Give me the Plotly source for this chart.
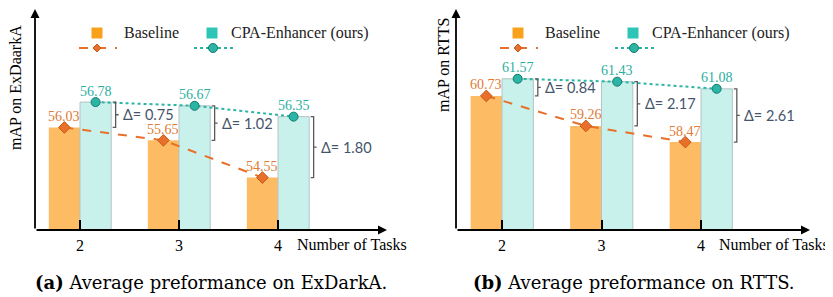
import plotly.graph_objects as go

# ---------------- data ----------------
tasks = [2, 3, 4]
tick_labels = ["2", "3", "4"]
exdark_baseline = [56.03, 55.65, 54.55]
exdark_cpa = [56.78, 56.67, 56.35]
rtts_baseline = [60.73, 59.26, 58.47]
rtts_cpa = [61.57, 61.43, 61.08]

series_names = ["Baseline", "CPA-Enhancer (ours)"]
y_titles = ["mAP on ExDaarkA", "mAP on RTTS"]
captions = ["<b>(a)</b> Average preformance on ExDarkA.",
            "<b>(b)</b> Average preformance on RTTS."]
x_title = "Number of Tasks"

# ---------------- style ----------------
OFF = 8  # page body margin
W, H = 833 - OFF, 297 - OFF
SERIF = "Liberation Serif"
BAR_W = 0.315
ORANGE_BAR = "#FDBB63"
CYAN_BAR = "#C9F1EC"
ORANGE_LINE = "#E8702A"
CYAN_LINE = "#2BB5A5"
ORANGE_LEG = "#F9A11B"
CYAN_LEG = "#2EC4B6"
ORANGE_TXT = "#E07A35"
CYAN_TXT = "#2BB0A0"
DELTA_TXT = "#44546A"
BRACE = "#5a5a5a"


def px(x):
    return (x - OFF) / W


def py(y):
    return 1 - (y - OFF) / H


fig = go.Figure()

panels = [
    dict(base=exdark_baseline, cpa=exdark_cpa, xa="x", ya="y",
         xdom=[35, 387], xr=[2 - 45 / 99, 4 + 109 / 99], yr=[53.0, 59.56],
         ytitle_pos=(15, 88), leg_x=35, cap_x=211, xt_x=295),
    dict(base=rtts_baseline, cpa=rtts_cpa, xa="x2", ya="y2",
         xdom=[456, 810], xr=[2 - 46 / 99.5, 4 + 109 / 99.5], yr=[54.16, 65.04],
         ytitle_pos=(443, 65), leg_x=456, cap_x=634, xt_x=717),
]

annotations = []
shapes = []


def text_ann(x, y, text, font, xanchor="center", yanchor="middle", **kw):
    d = dict(x=x, y=y, xref="paper", yref="paper", text=text, showarrow=False,
             xanchor=xanchor, yanchor=yanchor, font=font)
    d.update(kw)
    annotations.append(d)


for i, p in enumerate(panels):
    xa, ya = p["xa"], p["ya"]
    # bars
    fig.add_trace(go.Bar(x=tasks, y=p["base"], width=BAR_W, offset=-BAR_W,
                         marker=dict(color=ORANGE_BAR, line=dict(width=0)),
                         xaxis=xa, yaxis=ya, showlegend=False))
    fig.add_trace(go.Bar(x=tasks, y=p["cpa"], width=BAR_W, offset=0,
                         marker=dict(color=CYAN_BAR, line=dict(width=1, color="#b4c4c4")),
                         xaxis=xa, yaxis=ya, showlegend=False))
    # lines with markers
    xb = [t - BAR_W / 2 for t in tasks]
    xc = [t + BAR_W / 2 for t in tasks]
    fig.add_trace(go.Scatter(x=xb, y=p["base"], mode="lines+markers",
                             line=dict(color=ORANGE_LINE, width=2, dash="dash"),
                             marker=dict(symbol="diamond", size=9, color=ORANGE_LINE,
                                         line=dict(color="#C85A1A", width=1)),
                             cliponaxis=False, xaxis=xa, yaxis=ya, showlegend=False))
    fig.add_trace(go.Scatter(x=xc, y=p["cpa"], mode="lines+markers",
                             line=dict(color=CYAN_LINE, width=2, dash="dot"),
                             marker=dict(symbol="circle", size=9, color=CYAN_LINE,
                                         line=dict(color="#137a70", width=1)),
                             cliponaxis=False, xaxis=xa, yaxis=ya, showlegend=False))
    # value labels
    for xs, vals, col in [(xb, p["base"], ORANGE_TXT), (xc, p["cpa"], CYAN_TXT)]:
        for xv_, v in zip(xs, vals):
            annotations.append(dict(x=xv_, y=v, xref=xa, yref=ya, text=f"{v:.2f}",
                                    showarrow=False, yshift=11, xanchor="center",
                                    yanchor="middle",
                                    font=dict(family=SERIF, size=14, color=col)))

    # delta braces
    for t, b, c in zip(tasks, p["base"], p["cpa"]):
        x0 = t + BAR_W + 0.015
        xv = t + BAR_W + 0.045
        ym = (b + c) / 2
        path = (f"M {x0},{c} L {xv},{c} L {xv},{b} L {x0},{b} "
                f"M {xv},{ym} L {xv + 0.03},{ym}")
        shapes.append(dict(type="path", path=path, xref=xa, yref=ya,
                           line=dict(color=BRACE, width=1.3)))
        annotations.append(dict(x=xv + 0.055, y=ym, xref=xa, yref=ya,
                                text=f"Δ= {c - b:.2f}", showarrow=False,
                                xanchor="left", yanchor="middle",
                                font=dict(family="Lato", size=14.5, color=DELTA_TXT)))

    # axis arrows
    x_left, x_right = p["xdom"]
    annotations.append(dict(x=px(x_right), y=py(230), xref="paper", yref="paper",
                            ax=-(x_right - x_left), ay=0, axref="pixel", ayref="pixel",
                            text="", showarrow=True, arrowhead=2, arrowsize=1,
                            arrowwidth=1.8, arrowcolor="black", standoff=0))
    annotations.append(dict(x=px(x_left), y=py(8), xref="paper", yref="paper",
                            ax=0, ay=222, axref="pixel", ayref="pixel",
                            text="", showarrow=True, arrowhead=2, arrowsize=1,
                            arrowwidth=1.8, arrowcolor="black", standoff=0))

    # y title
    tx, ty = p["ytitle_pos"]
    text_ann(px(tx), py(ty), y_titles[i], dict(family=SERIF, size=16, color="black"),
             textangle=-90)
    # x title
    text_ann(px(p["xt_x"]), py(244), x_title, dict(family=SERIF, size=16, color="black"),
             xanchor="left")
    # caption
    text_ann(px(p["cap_x"]), py(282), captions[i],
             dict(family="DejaVu Serif", size=18, color="black"))

    # manual legend
    lx = p["leg_x"]
    sq = 5.5
    for cx, col in [(lx + 62, ORANGE_LEG), (lx + 177, CYAN_LEG)]:
        shapes.append(dict(type="rect", xref="paper", yref="paper",
                           x0=px(cx - sq), x1=px(cx + sq), y0=py(33 + sq), y1=py(33 - sq),
                           fillcolor=col, line=dict(width=0)))
    text_ann(px(lx + 87), py(33), series_names[0],
             dict(family=SERIF, size=16, color="#222"), xanchor="left")
    text_ann(px(lx + 194), py(33), series_names[1],
             dict(family=SERIF, size=16, color="#222"), xanchor="left")
    # legend line samples
    shapes.append(dict(type="line", xref="paper", yref="paper",
                       x0=px(lx + 44), x1=px(lx + 82), y0=py(48), y1=py(48),
                       line=dict(color=ORANGE_LINE, width=2, dash="dash")))
    d = 4
    mx = lx + 62
    shapes.append(dict(type="path", xref="paper", yref="paper",
                       path=f"M {px(mx - d)},{py(48)} L {px(mx)},{py(48 - d)} "
                            f"L {px(mx + d)},{py(48)} L {px(mx)},{py(48 + d)} Z",
                       fillcolor=ORANGE_LINE, line=dict(color="#C85A1A", width=1)))
    shapes.append(dict(type="line", xref="paper", yref="paper",
                       x0=px(lx + 159), x1=px(lx + 199), y0=py(48), y1=py(48),
                       line=dict(color=CYAN_LINE, width=2, dash="dot")))
    r = 4.5
    cx = lx + 178
    shapes.append(dict(type="circle", xref="paper", yref="paper",
                       x0=px(cx - r), x1=px(cx + r), y0=py(48 + r), y1=py(48 - r),
                       fillcolor=CYAN_LINE, line=dict(color="#137a70", width=1)))

common_x = dict(tickmode="array", tickvals=tasks, ticktext=tick_labels,
                ticks="inside", ticklen=10, tickwidth=2, tickcolor="black",
                showline=False, showgrid=False, zeroline=False,
                tickfont=dict(family=SERIF, size=16, color="black"),
                ticklabelstandoff=4)
common_y = dict(showticklabels=False, ticks="", showline=False, showgrid=False,
                zeroline=False)
ydom = [py(230), py(8)]

fig.update_layout(
    width=W, height=H,
    margin=dict(l=0, r=0, t=0, b=0),
    paper_bgcolor="white", plot_bgcolor="rgba(0,0,0,0)",
    barmode="overlay",
    xaxis=dict(domain=[px(35), px(387)], range=panels[0]["xr"], anchor="y", **common_x),
    yaxis=dict(domain=ydom, range=panels[0]["yr"], anchor="x", **common_y),
    xaxis2=dict(domain=[px(456), px(810)], range=panels[1]["xr"], anchor="y2", **common_x),
    yaxis2=dict(domain=ydom, range=panels[1]["yr"], anchor="x2", **common_y),
    annotations=annotations,
    shapes=shapes,
    showlegend=False,
)

fig.write_html("out.html")
